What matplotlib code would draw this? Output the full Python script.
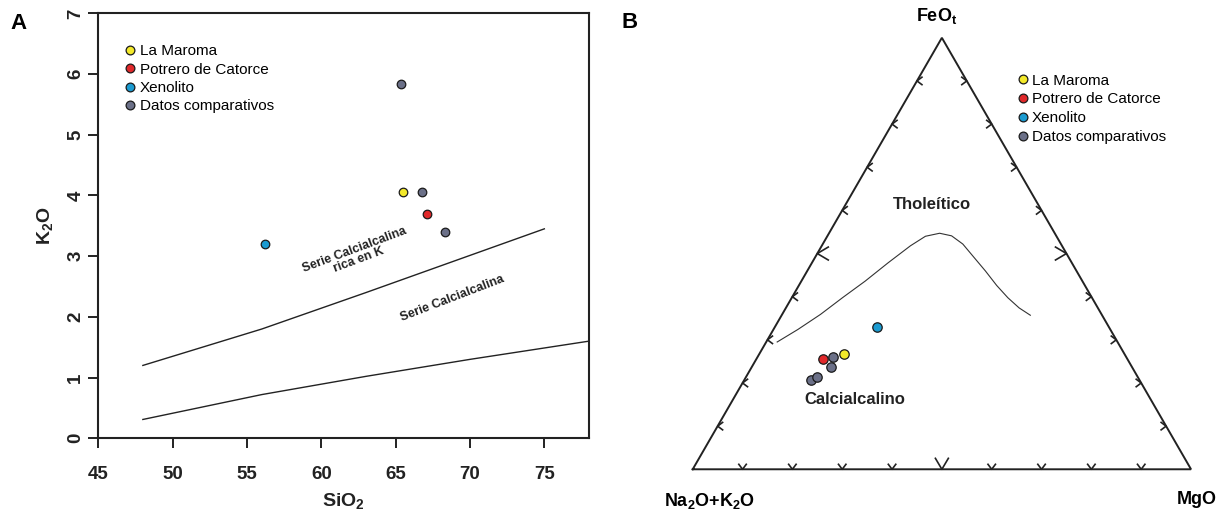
import numpy as np
import matplotlib.pyplot as plt
from matplotlib.lines import Line2D

plt.rcParams['font.family'] = ['Liberation Sans', 'DejaVu Sans']
plt.rcParams['mathtext.fontset'] = 'custom'
plt.rcParams['mathtext.rm'] = 'Liberation Sans'
plt.rcParams['mathtext.bf'] = 'Liberation Sans:bold'
plt.rcParams['mathtext.it'] = 'Liberation Sans:italic'

# grupos y colores
grupos = ['La Maroma', 'Potrero de Catorce', 'Xenolito', 'Datos comparativos']
colores = ['#f3e92a', '#e0282a', '#1b9bd1', '#6b7088']

# ---- A: SiO2 vs K2O ----
sio2_maroma = [65.5]
k2o_maroma = [4.05]
sio2_potrero = [67.1]
k2o_potrero = [3.69]
sio2_xeno = [56.2]
k2o_xeno = [3.20]
sio2_datos = [65.35, 66.8, 68.35]
k2o_datos = [5.84, 4.05, 3.39]

# limites de series (Peccerillo y Taylor)
lim_altok_sio2 = [48, 56, 63, 75]
lim_altok_k2o = [1.2, 1.8, 2.4, 3.45]
lim_calc_sio2 = [48, 56, 63, 70, 78]
lim_calc_k2o = [0.31, 0.72, 1.02, 1.3, 1.6]

# ---- B: AFM (Na2O+K2O, FeOt, MgO) en % ----
alk_maroma, feo_maroma, mgo_maroma = [56.3], [26.7], [17.0]
alk_potrero, feo_potrero, mgo_potrero = [61.0], [25.6], [13.4]
alk_xeno, feo_xeno, mgo_xeno = [46.6], [33.0], [20.4]
alk_datos = [66.0, 64.3, 58.8, 60.4]
feo_datos = [20.7, 21.3, 26.0, 23.8]
mgo_datos = [13.3, 14.3, 15.2, 15.8]

# curva de Irvine y Baragar
curva_alk = [68.3, 62.7, 56.4, 50.0, 43.6, 36.9, 30.4, 26.3, 23.1, 21.0, 19.7, 19.0, 18.3, 17.7, 16.9, 15.8, 14.4]
curva_feo = [29.5, 32.4, 35.9, 39.8, 43.6, 47.9, 51.8, 54.0, 54.7, 54.1, 52.2, 49.1, 46.0, 42.6, 39.8, 37.4, 35.7]
curva_mgo = [2.2, 4.9, 7.7, 10.2, 12.8, 15.3, 17.8, 19.7, 22.2, 24.9, 28.1, 31.9, 35.8, 39.7, 43.4, 46.8, 49.9]

H = np.sqrt(3) / 2


def tern(a, f, m):
    a, f, m = np.asarray(a, float), np.asarray(f, float), np.asarray(m, float)
    s = a + f + m
    return (m + f / 2) / s, H * f / s


fig = plt.figure(figsize=(12.28, 5.14), dpi=100)

# ================= A =================
ax = fig.add_axes([0.0800, 0.1473, 0.3996, 0.8268])
ax.plot(lim_altok_sio2, lim_altok_k2o, color='#222222', lw=1.0)
ax.plot(lim_calc_sio2, lim_calc_k2o, color='#222222', lw=1.0)

datos_a = [(sio2_maroma, k2o_maroma), (sio2_potrero, k2o_potrero),
           (sio2_xeno, k2o_xeno), (sio2_datos, k2o_datos)]
for (xs, ys), c in zip(datos_a, colores):
    ax.scatter(xs, ys, s=38, c=c, edgecolors='#1a1a1a', linewidths=0.9, zorder=3)

ax.text(62.4, 3.02, 'Serie Calcialcalina\nrica en K', rotation=20.5, ha='center', va='center',
        fontsize=9, fontweight='bold', color='#222222', linespacing=0.95)
ax.text(68.8, 2.30, 'Serie Calcialcalina', rotation=21, ha='center', va='center',
        fontsize=9, fontweight='bold', color='#222222')

ax.set_xlim(45, 78)
ax.set_ylim(0, 7)
ax.set_xticks([45, 50, 55, 60, 65, 70, 75])
ax.set_yticks(range(8))
for sp in ax.spines.values():
    sp.set_linewidth(1.5)
    sp.set_color('#222222')
ax.tick_params(direction='out', length=7, width=1.4, color='#222222', labelsize=13.5)
ax.tick_params(axis='x', pad=13)
ax.tick_params(axis='y', pad=3)
for t in ax.get_xticklabels() + ax.get_yticklabels():
    t.set_fontweight('bold')
    t.set_color('#222222')
for t in ax.get_yticklabels():
    t.set_rotation(90)
    t.set_va('center')
ax.set_xlabel(r'$\mathbf{SiO_2}$', fontsize=14, labelpad=6, color='#222222')
ax.set_ylabel(r'$\mathbf{K_2O}$', fontsize=14, labelpad=9, color='#222222')

h = [Line2D([], [], ls='', marker='o', ms=6.3, mfc=c, mec='#1a1a1a', mew=0.9) for c in colores]
ax.legend(h, grupos, loc='upper left', bbox_to_anchor=(0.052, 0.927), frameon=False, fontsize=11,
          borderpad=0, handlelength=0.8, handletextpad=0.25, labelspacing=0.28, borderaxespad=0)

fig.text(0.0147, 0.955, 'A', fontsize=16, fontweight='bold', ha='center', va='center')

# ================= B =================
bx = fig.add_axes([0.5641, 0.0870, 0.4058, 0.8395])
bx.set_xlim(0, 1)
bx.set_ylim(0, H)
bx.axis('off')

bx.plot([0, 1, 0.5, 0], [0, 0, H, 0], color='#222222', lw=1.4, solid_joinstyle='miter', clip_on=False)

# marcas de flecha en los lados
for t in np.arange(1, 10) / 10:
    big = abs(t - 0.5) < 1e-6
    L, W = (0.022, 0.013) if big else (0.010, 0.0075)
    # base
    px, py = t, 0
    bx.plot([px - W, px, px + W], [py + L, py, py + L], color='#222222', lw=1.2, clip_on=False)
    # lado izquierdo
    px, py = 0.5 * t, H * t
    bx.plot([px + L, px, px + L], [py + W, py, py - W], color='#222222', lw=1.2, clip_on=False)
    # lado derecho
    px, py = 1 - 0.5 * t, H * t
    bx.plot([px - L, px, px - L], [py + W, py, py - W], color='#222222', lw=1.2, clip_on=False)

cx, cy = tern(curva_alk, curva_feo, curva_mgo)
bx.plot(cx, cy, color='#333333', lw=0.8)

datos_b = [(alk_datos, feo_datos, mgo_datos), (alk_maroma, feo_maroma, mgo_maroma),
           (alk_potrero, feo_potrero, mgo_potrero), (alk_xeno, feo_xeno, mgo_xeno)]
col_b = [colores[3], colores[0], colores[1], colores[2]]
for (a, f, m), c in zip(datos_b, col_b):
    x, y = tern(a, f, m)
    bx.scatter(x, y, s=46, c=c, edgecolors='#1a1a1a', linewidths=0.9, zorder=3)

bx.text(0.480, 0.532, 'Tholeítico', fontsize=12, fontweight='bold', ha='center', va='center', color='#222222')
bx.text(0.3257, 0.1405, 'Calcialcalino', fontsize=12, fontweight='bold', ha='center', va='center', color='#222222')
bx.text(0.489, 0.910, r'$\mathbf{FeO_t}$', fontsize=13, ha='center', va='center', clip_on=False)
bx.text(0.0347, -0.063, r'$\mathbf{Na_2O{+}K_2O}$', fontsize=13, ha='center', va='center', clip_on=False)
bx.text(1.0114, -0.0616, r'$\mathbf{MgO}$', fontsize=13, ha='center', va='center', clip_on=False)

bx.legend(h, grupos, loc='upper left', bbox_to_anchor=(0.650, 0.917), frameon=False, fontsize=11,
          borderpad=0, handlelength=0.8, handletextpad=0.21, labelspacing=0.32, borderaxespad=0)

fig.text(630 / 1228, 1 - 22 / 514, 'B', fontsize=16, fontweight='bold', ha='center', va='center')

fig.savefig('out.png', dpi=100)
